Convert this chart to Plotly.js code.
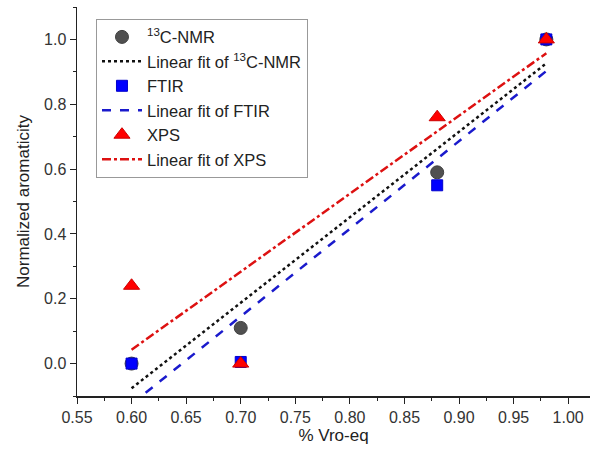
<!DOCTYPE html>
<html><head><meta charset="utf-8">
<script src="https://cdn.plot.ly/plotly-3.0.1.min.js"></script>
<style>html,body{margin:0;padding:0;background:#fff}#chart{width:590px;height:459px}</style>
</head><body><div id="chart"></div>
<script>
var vro = [0.60, 0.70, 0.88, 0.98];
var nmr = [0.00, 0.11, 0.59, 1.00];
var ftir = [0.00, 0.005, 0.55, 1.00];
var xps = [0.24, 0.00, 0.76, 1.00];
var xTicks = [0.55, 0.60, 0.65, 0.70, 0.75, 0.80, 0.85, 0.90, 0.95, 1.00];
var yTicks = [0.0, 0.2, 0.4, 0.6, 0.8, 1.0];

function fit(x, y) {
  var n = x.length, mx = 0, my = 0;
  for (var i = 0; i < n; i++) { mx += x[i]; my += y[i]; }
  mx /= n; my /= n;
  var sxy = 0, sxx = 0;
  for (var i = 0; i < n; i++) { sxy += (x[i]-mx)*(y[i]-my); sxx += (x[i]-mx)*(x[i]-mx); }
  var b = sxy / sxx, a = my - b*mx;
  var xs = [x[0], x[n-1]];
  return {x: xs, y: xs.map(function(v){ return a + b*v; })};
}
var fN = fit(vro, nmr), fF = fit(vro, ftir), fX = fit(vro, xps);

var traces = [
  {x: vro, y: nmr, mode: 'markers', name: '<sup>13</sup>C-NMR',
   marker: {symbol: 'circle', size: 13, color: '#505050', line: {color: '#404040', width: 1}}},
  {x: fN.x, y: fN.y, mode: 'lines', name: 'Linear fit of <sup>13</sup>C-NMR',
   line: {color: '#111', width: 2.5, dash: 'dot'}},
  {x: vro, y: ftir, mode: 'markers', name: 'FTIR',
   marker: {symbol: 'square', size: 11, color: '#0000ff', line: {color: '#0000cc', width: 1}}},
  {x: fF.x, y: fF.y, mode: 'lines', name: 'Linear fit of FTIR',
   line: {color: '#1a1acc', width: 2.5, dash: 'dash'}},
  {x: vro, y: xps, mode: 'markers', name: 'XPS',
   marker: {symbol: 'triangle-up', size: 14, color: '#ff0000', line: {color: '#cc0000', width: 1}}},
  {x: fX.x, y: fX.y, mode: 'lines', name: 'Linear fit of XPS',
   line: {color: '#dd1111', width: 2.5, dash: 'dashdot'}}
];

var layout = {
  width: 590, height: 459,
  margin: {l: 77, r: 0, t: 7, b: 63},
  paper_bgcolor: '#fff', plot_bgcolor: '#fff',
  font: {family: 'Liberation Sans, Arial, sans-serif', color: '#222'},
  showlegend: true,
  legend: {x: 0.037, y: 0.97, xanchor: 'left', yanchor: 'top',
    bordercolor: '#999', borderwidth: 1, bgcolor: 'rgba(255,255,255,0)',
    font: {size: 16.5, color: '#222'}, tracegroupgap: 0, itemwidth: 40},
  xaxis: {range: [0.55, 1.02], tickvals: xTicks, ticktext: xTicks.map(function(v){return v.toFixed(2);}),
    showline: true, linecolor: '#222', linewidth: 1.5, ticks: 'outside', ticklen: 6, tickcolor: '#222',
    minor: {dtick: 0.025, tick0: 0.55, ticks: 'outside', ticklen: 3, tickcolor: '#222'},
    showgrid: false, zeroline: false, tickfont: {size: 16, color: '#333'},
    title: {text: '% Vro-eq', font: {size: 17, color: '#222'}, standoff: 4}},
  yaxis: {range: [-0.1, 1.1], tickvals: yTicks, ticktext: yTicks.map(function(v){return v.toFixed(1);}),
    showline: true, linecolor: '#222', linewidth: 1.5, ticks: 'outside', ticklen: 6, tickcolor: '#222',
    minor: {dtick: 0.1, tick0: 0, ticks: 'outside', ticklen: 3, tickcolor: '#222'},
    showgrid: false, zeroline: false, tickfont: {size: 16, color: '#333'},
    title: {text: 'Normalized aromaticity', font: {size: 17, color: '#222'}, standoff: 10}}
};
Plotly.newPlot('chart', traces, layout, {displayModeBar: false, staticPlot: true});
</script></body></html>
